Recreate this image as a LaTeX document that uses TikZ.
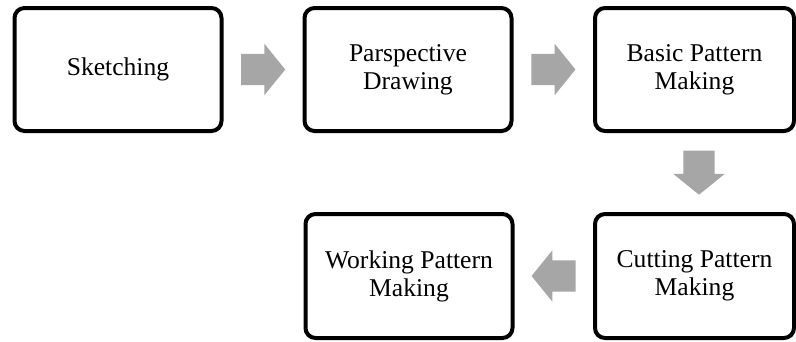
\documentclass[tikz,border=0pt]{standalone}
\usepackage{fontspec}
\setmainfont{Liberation Serif}
\usetikzlibrary{shapes.arrows,calc}
\definecolor{arrowgray}{RGB}{166,166,166}
\begin{document}
\begin{tikzpicture}[x=1pt, y=-1pt,
  stepbox/.style={draw, line width=4pt, rounded corners=10pt, inner sep=0pt, align=center,
    minimum width=207pt, font=\fontsize{25.6}{28}\selectfont},
  fatarrow/.style={single arrow, fill=arrowgray, inner xsep=0pt, inner ysep=15.5pt, minimum height=44pt,
    single arrow head extend=10pt, single arrow tip angle=102, anchor=tail}]
  \useasboundingbox (0,0) rectangle (796,341);
  \node[stepbox, minimum height=123pt] (sketch) at (118,69.5) {Sketching};
  \node[stepbox, minimum height=123pt] (persp) at (408,69.5) {Parspective\\Drawing};
  \node[stepbox, minimum height=123pt, minimum width=199pt] (basic) at (694.5,69.5) {Basic Pattern\\Making};
  \node[stepbox, minimum height=124pt, minimum width=199pt] (cutting) at (694.5,276) {Cutting Pattern\\Making};
  \node[stepbox, minimum height=124pt] (working) at (409,276) {Working Pattern\\Making};
  \node[fatarrow, xshift=-22pt] (arr1) at ($(sketch.east)!0.5!(persp.west)$) {};
  \node[fatarrow, xshift=-22pt] (arr2) at ($(persp.east)!0.5!(basic.west)$) {};
  \node[fatarrow, shape border rotate=270, inner xsep=15.5pt, inner ysep=0pt, xshift=4.5pt, yshift=22pt] (arr3)
    at ($(basic.south)!0.5!(cutting.north)$) {};
  \node[fatarrow, shape border rotate=180, xshift=22pt] (arr4) at ($(cutting.west)!0.5!(working.east)$) {};
\end{tikzpicture}
\end{document}
